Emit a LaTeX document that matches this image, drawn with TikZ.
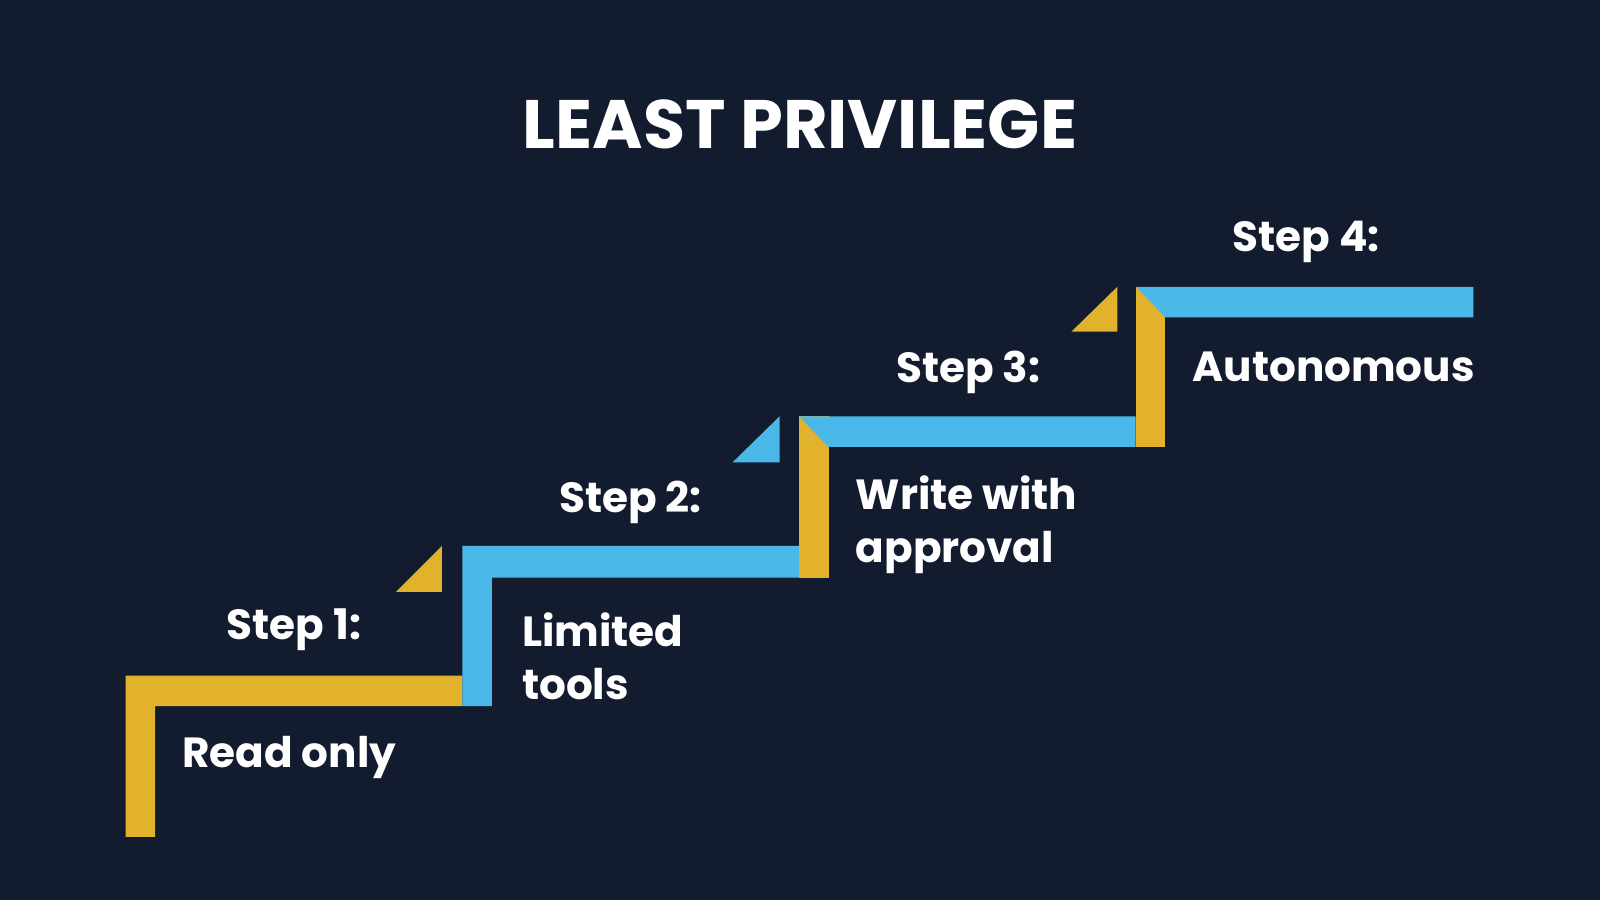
\documentclass[tikz,border=0pt]{standalone}
\usepackage{fontspec}
\setmainfont{Poppins}[BoldFont={Poppins Bold}]
\usetikzlibrary{positioning}
\definecolor{bgc}{HTML}{131C2E}
\definecolor{gold}{HTML}{E2B22C}
\definecolor{sky}{HTML}{4BB8EA}
\tikzset{steplbl/.style={text=white, font=\bfseries\fontsize{12}{15}\selectfont}}
\tikzset{lbl/.style={text=white, font=\bfseries\fontsize{12}{15}\selectfont, align=left, anchor=west, inner sep=0pt}}

\begin{document}
\begin{tikzpicture}[x=0.010204cm, y=-0.010204cm]
\fill[bgc] (0,0) rectangle (1568,882);
\useasboundingbox (0,0) rectangle (1568,882);

\node[text=white, font=\bfseries\fontsize{19.5}{23}\selectfont] (title) at (784,122) {LEAST PRIVILEGE};

% stair ribbons
\fill[gold] (123,820) -- (123,662) -- (453,662) -- (453,692) -- (152,692) -- (152,820) -- cycle;
\fill[sky] (453,692) -- (453,535) -- (783,535) -- (783,566) -- (482,566) -- (482,692) -- cycle;
\fill[gold] (783,408) rectangle (812,566);
\fill[sky] (783,408) -- (1113,408) -- (1113,438) -- (812,438) -- cycle;
\fill[gold] (1113,281) rectangle (1142,438);
\fill[sky] (1113,281) -- (1444,281) -- (1444,311) -- (1142,311) -- cycle;

% folded corners
\fill[gold] (388,580) -- (433,535) -- (433,580) -- cycle;
\fill[sky] (718,453) -- (764,408) -- (764,453) -- cycle;
\fill[gold] (1050,325) -- (1095,281) -- (1095,325) -- cycle;

\node[steplbl] (s1) at (288,617) {Step 1:};
\node[steplbl] (s2) at (618,492) {Step 2:};
\node[steplbl] (s3) at (949,365) {Step 3:};
\node[steplbl] (s4) at (1280,237) {Step 4:};

\node[lbl] (l1) at (178,742) {Read only};
\node[lbl] (l2) at (511,643) {Limited\\tools};
\node[lbl] (l3) at (838,514) {Write with\\approval};
\node[lbl] (l4) at (1168,360) {Autonomous};
\end{tikzpicture}
\end{document}
